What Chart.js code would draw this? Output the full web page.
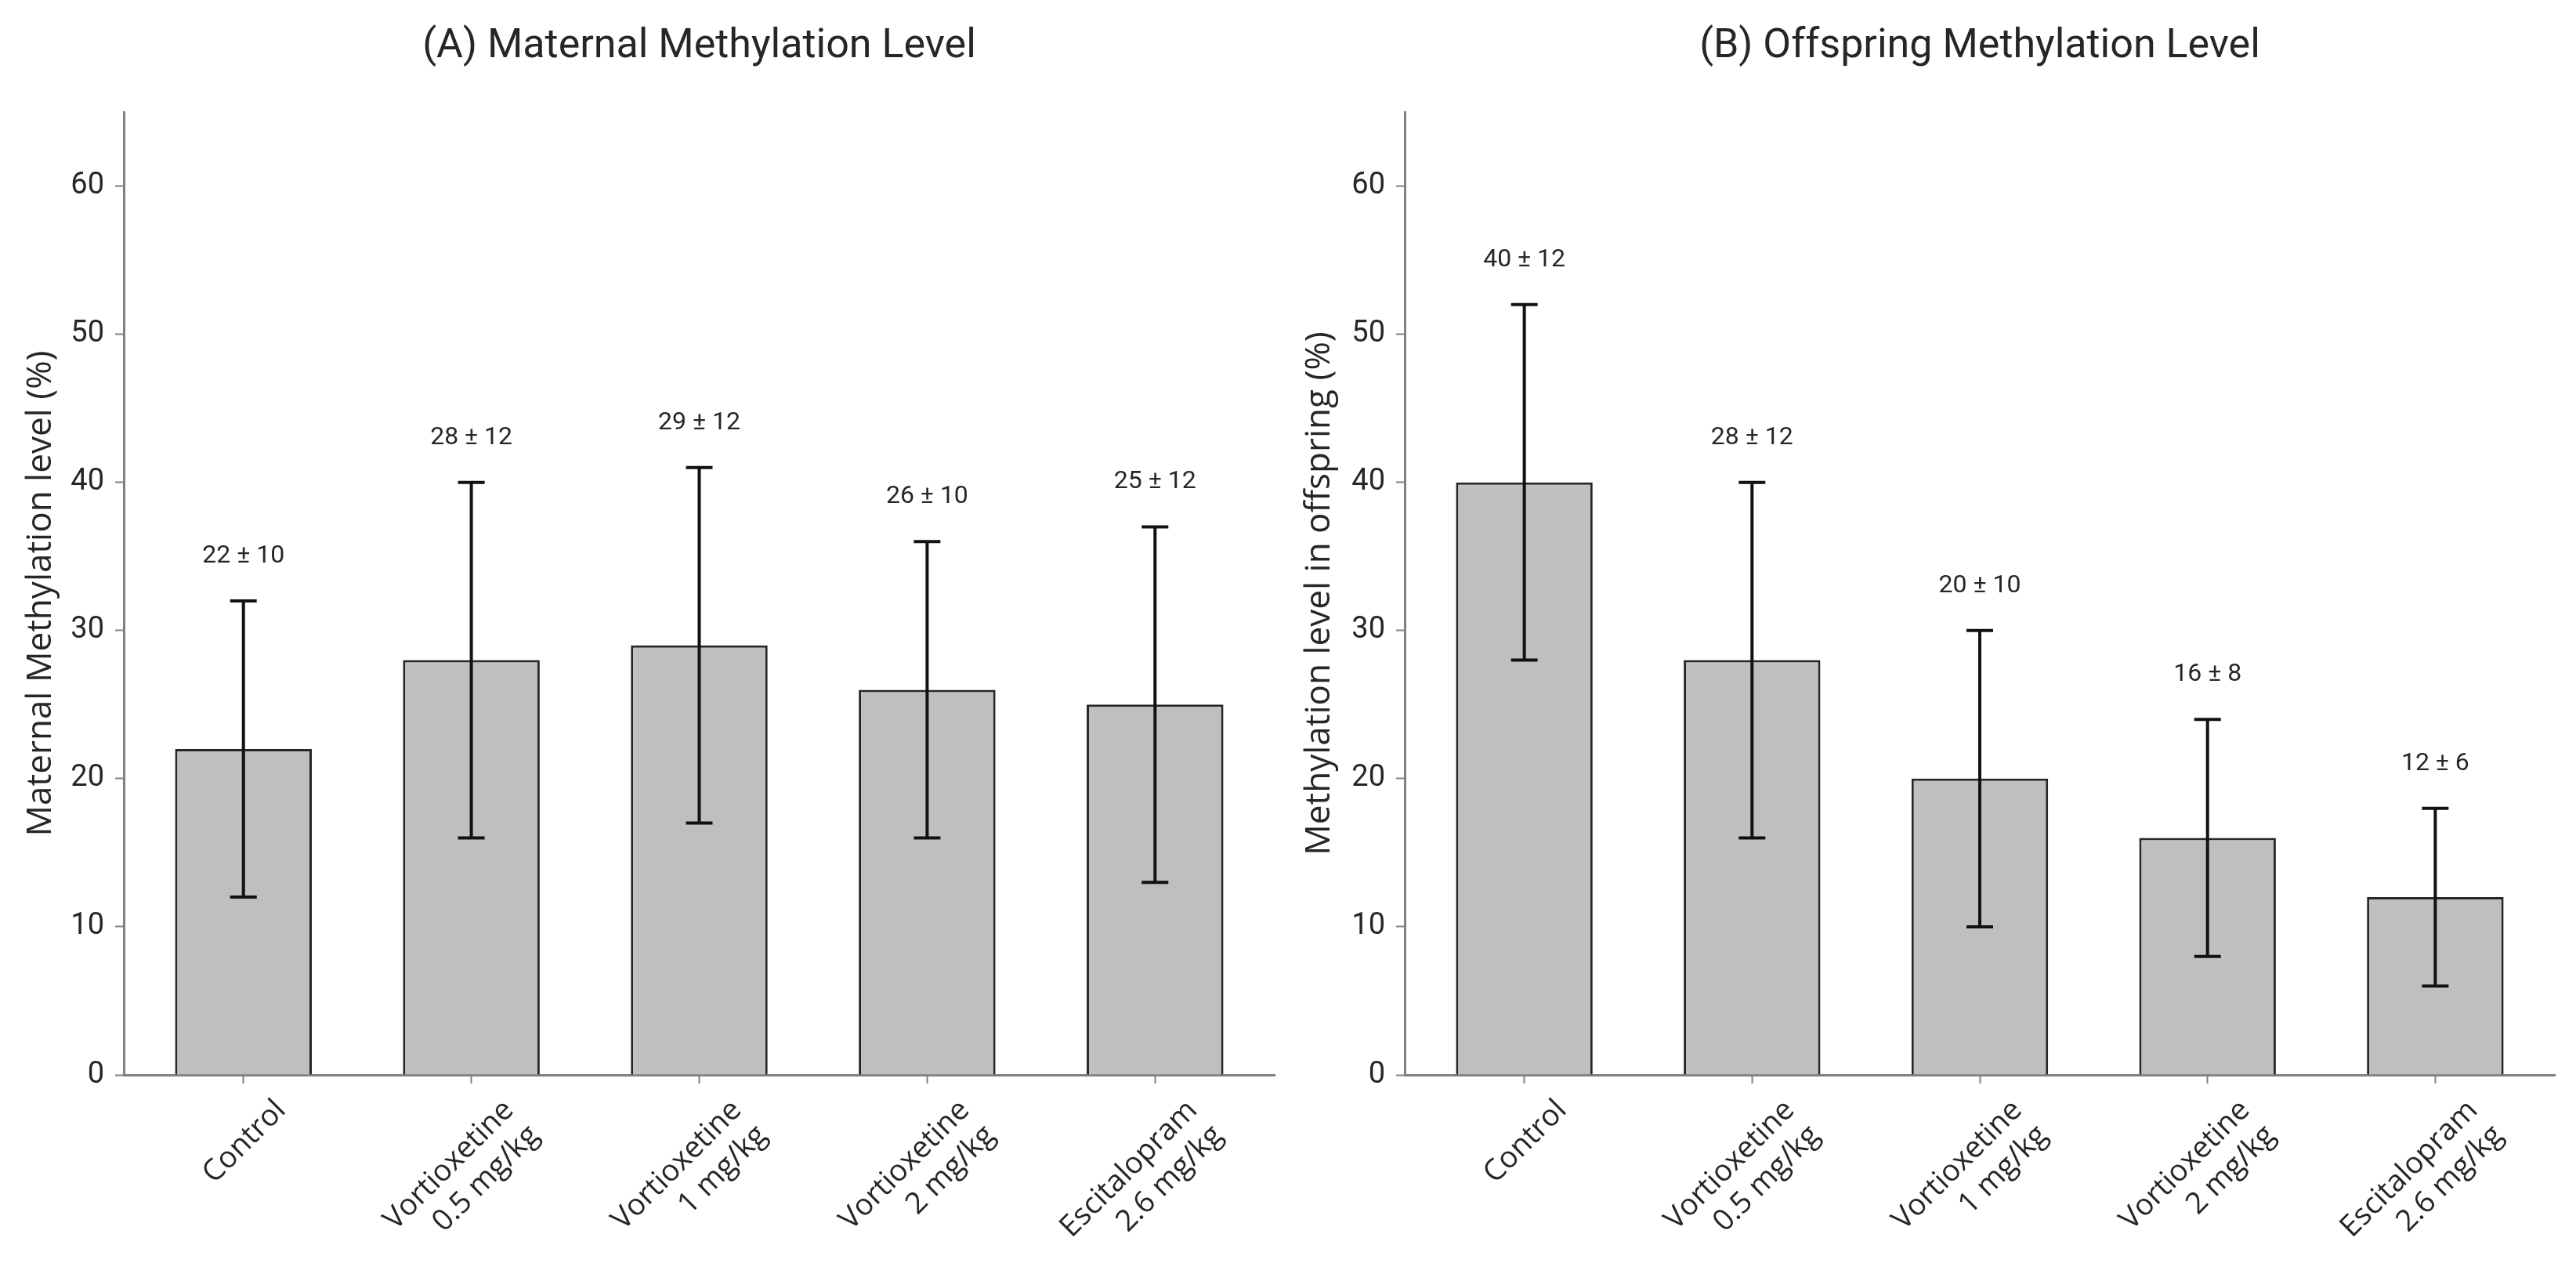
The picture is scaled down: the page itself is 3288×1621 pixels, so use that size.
<!DOCTYPE html>
<html>
<head>
<meta charset="utf-8">
<script src="https://cdn.jsdelivr.net/npm/chart.js@4.4.1/dist/chart.umd.min.js"></script>
<style>
  html, body { margin: 0; padding: 0; background: #fff; }
  #wrap { display: flex; width: 3288px; height: 1621px; }
  .panel { position: relative; width: 1644px; height: 1621px; }
</style>
</head>
<body>
<div id="wrap">
  <div class="panel"><canvas id="maternalChart"></canvas></div>
  <div class="panel"><canvas id="offspringChart"></canvas></div>
</div>
<script>
// 그룹 이름 (두 줄 라벨)
const groups = [
  ['Control'],
  ['Vortioxetine', '0.5 mg/kg'],
  ['Vortioxetine', '1 mg/kg'],
  ['Vortioxetine', '2 mg/kg'],
  ['Escitalopram', '2.6 mg/kg']
];
// 평균 / 표준편차 (%)
const maternalMean = [22, 28, 29, 26, 25];
const maternalSd = [10, 12, 12, 10, 12];
const offspringMean = [40, 28, 20, 16, 12];
const offspringSd = [12, 12, 10, 8, 6];
const yTicks = [0, 10, 20, 30, 40, 50, 60];
const yMax = 65;

const textColor = '#262626';
const axisColor = '#808080';

// 에러바 + 값 라벨
const errorBars = {
  id: 'errorBars',
  afterDatasetsDraw(chart, args, opts) {
    const { ctx, scales: { x, y } } = chart;
    const means = chart.data.datasets[0].data;
    ctx.save();
    ctx.strokeStyle = '#111';
    ctx.lineWidth = 4;
    ctx.fillStyle = textColor;
    ctx.font = '32px Roboto';
    ctx.textAlign = 'center';
    ctx.textBaseline = 'middle';
    means.forEach((m, i) => {
      const px = x.getPixelForValue(i);
      const top = y.getPixelForValue(m + opts.sd[i]);
      const bot = y.getPixelForValue(m - opts.sd[i]);
      ctx.beginPath();
      ctx.moveTo(px, top); ctx.lineTo(px, bot);
      ctx.moveTo(px - 17, top); ctx.lineTo(px + 17, top);
      ctx.moveTo(px - 17, bot); ctx.lineTo(px + 17, bot);
      ctx.stroke();
      ctx.fillText(`${m} ± ${opts.sd[i]}`, px, top - 57);
    });
    ctx.restore();
  }
};

// 패널 제목 (플롯 영역 중앙)
const panelTitle = {
  id: 'panelTitle',
  afterDraw(chart, args, opts) {
    const { ctx, chartArea } = chart;
    ctx.save();
    ctx.fillStyle = textColor;
    ctx.font = '52px Roboto';
    ctx.textAlign = 'center';
    ctx.textBaseline = 'middle';
    ctx.fillText(opts.text, (chartArea.left + chartArea.right) / 2, 60);
    ctx.restore();
  }
};

function createChart(canvasId, title, yLabel, means, sd, axisLeft, rightPad, titleLeft) {
  const ctx = document.getElementById(canvasId).getContext('2d');
  return new Chart(ctx, {
    type: 'bar',
    data: {
      labels: groups,
      datasets: [{
        data: means,
        backgroundColor: '#bfbfbf',
        borderColor: '#262626',
        borderWidth: 3,
        barPercentage: 0.6,
        categoryPercentage: 1.0
      }]
    },
    plugins: [errorBars, panelTitle],
    options: {
      responsive: true,
      maintainAspectRatio: false,
      animation: false,
      devicePixelRatio: 1,
      layout: { padding: { top: 143, right: rightPad, left: titleLeft, bottom: 10 } },
      plugins: {
        legend: { display: false },
        tooltip: { enabled: false },
        errorBars: { sd: sd },
        panelTitle: { text: title }
      },
      scales: {
        x: {
          border: { display: true, color: axisColor, width: 3 },
          grid: { display: true, offset: false, drawOnChartArea: false, drawTicks: true, tickLength: 11, tickWidth: 2, tickColor: axisColor },
          ticks: {
            color: textColor,
            font: { family: 'Open Sans', size: 38 },
            minRotation: 45, maxRotation: 45,
            labelOffset: 48,
            padding: 12
          },
          // 축 양끝 여백을 약간 넓힘 (원본처럼)
          afterBuildTicks(scale) {
            scale._startValue = -0.525;
            scale._valueRange = 5.05;
          },
          afterFit(scale) { scale.height = 1621 - 1372 - 10; }
        },
        y: {
          min: 0, max: yMax,
          border: { display: true, color: axisColor, width: 3 },
          grid: { display: true, drawOnChartArea: false, drawTicks: true, tickLength: 11, tickWidth: 2, tickColor: axisColor },
          ticks: {
            color: textColor,
            font: { family: 'Roboto', size: 38 },
            padding: 14
          },
          afterBuildTicks(scale) { scale.ticks = yTicks.map(v => ({ value: v })); },
          afterFit(scale) { scale.width = axisLeft - titleLeft; },
          title: {
            display: true,
            text: yLabel,
            color: textColor,
            font: { family: 'Open Sans', size: 44 },
            padding: { top: 0, bottom: 0 }
          }
        }
      }
    }
  });
}

createChart('maternalChart', '(A) Maternal Methylation Level', 'Maternal Methylation level (%)',
  maternalMean, maternalSd, 158, 17, 26);
createChart('offspringChart', '(B) Offspring Methylation Level', 'Methylation level in offspring (%)',
  offspringMean, offspringSd, 149, 27, 14);
</script>
</body>
</html>
